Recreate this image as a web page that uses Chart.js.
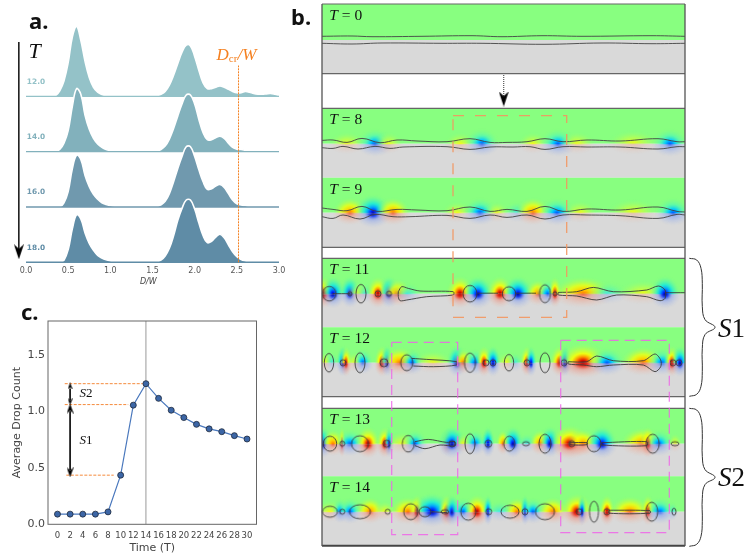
<!DOCTYPE html>
<html>
<head>
<meta charset="utf-8">
<script src="https://cdn.jsdelivr.net/npm/chart.js@4"></script>
<style>
  body { margin: 0; background: #fff; width: 748px; height: 555px; overflow: hidden; position: relative; }
  .box { position: absolute; }
  .letter { position: absolute; font: bold 22px "Noto Sans", sans-serif; color: #111; line-height: 1; }
</style>
</head>
<body>
<div class="box" style="left:0;top:0;width:300px;height:290px"><canvas id="ridge"></canvas></div>
<div class="box" style="left:0;top:290px;width:300px;height:265px"><canvas id="drops"></canvas></div>
<div class="box" style="left:316px;top:0;width:432px;height:555px"><canvas id="field"></canvas></div>
<div class="letter" style="left:29px;top:9px">a.</div>
<div class="letter" style="left:291px;top:5px">b.</div>
<div class="letter" style="left:21px;top:300px">c.</div>
<script>
// ---- panel a
const dwGrid = [0,0.05,0.1,0.15,0.2,0.25,0.3,0.35,0.4,0.45,0.5,0.55,0.6,0.65,0.7,0.75,0.8,0.85,0.9,0.95,1,1.05,1.1,1.15,1.2,1.25,1.3,1.35,1.4,1.45,1.5,1.55,1.6,1.65,1.7,1.75,1.8,1.85,1.9,1.95,2,2.05,2.1,2.15,2.2,2.25,2.3,2.35,2.4,2.45,2.5,2.55,2.6,2.65,2.7,2.75,2.8,2.85,2.9,2.95,3];
const density12 = [0,0,0,0,0,0,0,1,8,22,48,85,100,80,50,27,13,6,2.5,1,0,0,0,0,0,0,0,0,0,0,0,1,3,7,16,30,47,63,73,72,57,37,19,11,11,13,15,13,10,7,5,5,7,6,4,3,3,3.5,4,3,1.5];
const density14 = [0,0,0,0,0,0,0,0,3,12,30,65,90,82,52,32,19,11,6,3,1.5,0.5,0,0,0,0,0,0,0,0,0,0.5,3,8,18,33,51,68,81,81,68,46,27,17,17,20,22,19,12,6,3.5,3,2,1,0.5,0,0,0,0,0,0];
const density16 = [0,0,0,0,0,0,0,0,0,6,22,55,74,68,45,29,18,11,6,3.5,2,1,0.5,0,0,0,0,0,0,0,0,0.5,3,8,19,36,55,72,86,86,72,53,36,25,26,30,32,28,19,10,4.5,3,2,1,0.5,0,0,0,0,0,0];
const density18 = [0,0,0,0,0,0,0,0,0,3,18,48,68,62,42,27,17,10,6,3.5,2,1,0.5,0,0,0,0,0,0,0,0,0.5,3,9,20,38,60,77,89,89,76,56,38,28,30,36,40,35,25,15,8,4,2,1,0.5,0,0,0,0,0,0];
const ridgeLabels = ["12.0", "14.0", "16.0", "18.0"];
const ridgeColors = ["#94c2c8", "#82b1bc", "#7099ae", "#5f8ca6"];
const dwTicks = [0, 0.5, 1, 1.5, 2, 2.5, 3];
const dCritical = 2.52;

// ---- panel c
const timeTicks = [0,2,4,6,8,10,12,14,16,18,20,22,24,26,28,30];
const dropCount = [0.09,0.09,0.09,0.09,0.11,0.435,1.055,1.245,1.115,1.01,0.945,0.885,0.845,0.82,0.785,0.755];

// ---- panel b: strips, x along the domain, y measured from each strip's mid line
const stripTops = { t0: 4, t8: 108.3, t9: 177.7, t11: 258.3, t12: 327.3, t13: 408.3, t14: 476.3 };
const stripMids = { t0: 40, t8: 143.7, t9: 212.7, t11: 293.7, t12: 362.7, t13: 443.7, t14: 511.7 };
const stripEnds = { t0: 73.7, t8: 177.7, t9: 247.3, t11: 327.3, t12: 396.7, t13: 476.3, t14: 545.7 };
const frameLines = [4, 73.7, 108.3, 247.3, 258.3, 396.7, 408.3, 545.7];

const t0Upper = [[0,-3.7],[30,-4],[50,-3.3],[100,-3.7],[150,-4.3],[180,-3.3],[220,-4.3],[260,-3.7],[330,-4.3],[363,-3.7]];
const t0Lower = [[0,3.3],[30,4],[60,3],[120,3.3],[160,3.3],[222,4.3],[280,3],[330,3.7],[363,3.3]];
const t8Upper = [[0,-3.3],[11,-3.7],[25,-1.3],[40,-5.3],[58,-1],[75,-3.7],[95,-2.7],[125,-2],[148,-5],[168,-1.3],[185,-1.3],[205,-2],[223,-5],[241,-2],[265,-3.7],[298,-2.7],[336,-5],[355,-2],[363,-2]];
const t8Lower = [[0,4],[11,4.7],[21,2.7],[36,5.3],[53,2.7],[68,4.7],[81,3.3],[125,3],[148,5.7],[168,3.3],[191,3.3],[208,3],[223,5.7],[241,3],[265,3.3],[298,3.3],[336,5.3],[355,3],[363,3]];
const t9Upper = [[0,-4.7],[11,-3.3],[25,-2],[40,-6.3],[55,-1.3],[75,-3.3],[95,-2.7],[125,-2],[148,-5.7],[168,-1.3],[185,-3.3],[205,-1.3],[223,-6.3],[241,-1.3],[265,-3.7],[298,-2.7],[336,-5.7],[355,-1.3],[363,-0.7]];
const t9Lower = [[0,4],[11,5.7],[21,2.3],[38,6.3],[53,1.7],[71,4],[88,4],[125,2.7],[148,5.7],[168,2.3],[185,4.7],[205,2.3],[223,6.3],[241,2.3],[265,2.3],[298,3],[336,5.7],[355,1.7],[363,2.3]];

// heat patches: x, r(warm)/b(cool), strength, width
const t8Heat = [[25,"r",1,36],[53,"b",2,36],[66,"r",1,30],[138,"r",1,30],[160,"b",2,34],[211,"r",1,30],[236,"b",2,36],[255,"r",1,36],[311,"r",1,50],[348,"b",2,36]];
const t9Heat = [[28,"r",2,34],[51,"b",3,36],[71,"r",2,34],[135,"r",1,30],[158,"b",2,34],[175,"r",1,24],[195,"b",1,26],[211,"r",2,34],[235,"b",2,36],[258,"r",1,34],[311,"r",1,50],[351,"b",2,36]];
const t11Heat = [[1,"r",3,24],[11,"b",3,24],[28,"b",3,20],[36,"r",1,26],[43,"b",1,20],[56,"r",3,22],[67,"b",3,20],[75,"r",2,30],[85,"b",1,30],[138,"r",3,28],[156,"b",3,30],[178,"r",3,26],[196,"b",3,30],[216,"r",2,24],[226,"b",2,24],[233,"r",3,14],[261,"r",2,60],[285,"b",1,40],[321,"r",1,50],[343,"b",3,30]];
const t12Heat = [[3,"r",1,14],[10,"b",1,14],[21,"b",3,14],[24,"r",3,12],[33,"r",1,20],[41,"b",2,20],[60,"r",3,16],[65,"b",3,14],[78,"r",2,40],[90,"b",2,24],[111,"r",1,40],[135,"b",3,20],[141,"r",2,20],[153,"b",2,24],[162,"r",3,16],[171,"b",3,16],[185,"r",1,20],[193,"b",1,16],[205,"r",3,14],[209,"b",3,12],[238,"r",3,20],[243,"b",3,14],[261,"r",3,50],[275,"r",1,20],[285,"b",2,36],[321,"r",2,44],[340,"b",2,30],[350,"r",3,16],[358,"b",3,18]];
const t13Heat = [[1,"b",3,18],[11,"r",2,24],[20,"r",3,8],[28,"b",2,30],[46,"r",3,24],[63,"r",3,18],[67,"b",3,10],[81,"r",1,36],[93,"b",2,24],[125,"r",2,14],[130,"b",3,28],[141,"r",1,20],[153,"b",2,22],[166,"b",3,14],[181,"r",2,14],[191,"b",3,20],[205,"b",1,20],[218,"r",2,20],[228,"b",3,20],[248,"r",3,40],[261,"r",2,30],[280,"b",3,30],[321,"r",2,44],[326,"r",3,16],[337,"b",2,30],[353,"r",1,14]];
const t14Heat = [[8,"r",1,30],[18,"b",2,16],[28,"b",2,24],[48,"r",2,28],[63,"r",1,20],[86,"r",2,36],[95,"r",3,16],[110,"b",3,40],[125,"r",3,18],[130,"b",3,18],[141,"b",2,24],[155,"r",3,24],[166,"b",3,10],[178,"b",1,30],[195,"r",2,24],[203,"b",3,10],[211,"b",2,24],[231,"r",2,30],[255,"r",3,32],[260,"b",3,10],[285,"r",3,16],[308,"r",2,40],[326,"r",3,14],[338,"b",2,30],[351,"b",1,10]];

// droplets: x, half width, half height
const t11Drops = [[7.3,6.7,7.3],[39,5,9.3],[28,2,2],[56,3,3],[67,2.5,2.5],[148,7,8.3],[187,6.7,7],[223,5.5,9],[233,2,2]];
const t12Drops = [[7,4.7,9.3],[21,3,3],[38,5,10],[62,4,4],[84.7,6,8],[148,5.5,9.7],[164,3,3],[171,3,3],[187,4.7,8.3],[205,3,3],[223,5,10],[242,3,3],[351,3,3],[357,3,3]];
const t13Drops = [[8,6.7,7.5],[20.3,2.5,2.5],[38,8.5,8],[64.7,3.5,3.5],[86.3,6,8.3],[130,3,3],[148,5,10],[166.3,3.5,3.5],[187.3,5.5,7.5],[204,3.5,2],[223,6,9.5],[249.7,3,3],[272,7,8],[330.7,6.5,9.5],[353,4,2]];
const t14Drops = [[8,7.5,5.5],[20.3,2.5,2.5],[38,10.5,7],[65.7,2.5,2.5],[88.7,7,8],[103,6,5],[123,4,2],[146.3,7.5,8.5],[166.7,3,3],[188,9,6.5],[203,3,3],[223,9.5,8],[257.3,3,3],[272,4.5,10.5],[284.7,3,3],[329.7,6,9.5],[352,2,3.5]];

// stretched drops and threads, closed outlines
const t11Shapes = [
  [[76.3,-2],[79.7,-7],[86.3,-5.3],[98,-2.7],[131.3,-2],[131.3,1.3],[104.7,3],[84.7,6.3],[78,7],[76.3,3],[76.3,-2]],
  [[236.3,-1.3],[254.7,-2],[271.3,-6.3],[291.3,-2],[324.7,-3.7],[336.3,-7.7],[343,-3.7],[343,4.7],[338,7],[324.7,3],[294.7,1.3],[274.7,6.3],[254.7,2.3],[236.3,1.3],[236.3,-1.3]],
  [[343,-1],[363,-1]], [[11,0],[28,0]], [[156,-0.5],[176,-0.5]], [[194,-0.5],[214,-0.5]]
];
const t12Shapes = [
  [[89.7,-4.3],[104.7,-3.3],[134.7,-1],[134.7,2.3],[111.3,4],[91.3,3.3]],
  [[246.3,-1],[264.7,-1],[274.7,-6.7],[291.3,-2],[321.3,-2],[333,-8.7],[338.7,-2.7],[338.7,4],[333,9],[321.3,2.3],[291.3,2.3],[274.7,4],[261.3,2.3],[246.3,1.3],[246.3,-1]]
];
const t13Shapes = [
  [[93,-2],[106.3,-4.3],[124.7,-1.3],[133,-2],[133,2.3],[118,1.3],[103,5],[93,2]],
  [[248,-1],[265,-1],[265,1],[248,1],[248,-1]],
  [[279.7,-1],[324.7,-2],[324.7,2],[279.7,1.3],[279.7,-1]]
];
const t14Shapes = [
  [[287,-1.5],[328,-1],[328,1.5],[287,1.5],[287,-1.5]],
  [[110,0],[125,1]]
];

const orangeBox = [[131,115.7],[244.7,115.7],[244.7,317.3],[131,317.3],[131,115.7]];
const magentaBoxLeft = [[69.7,342.3],[135.7,342.3],[135.7,534.7],[69.7,534.7],[69.7,342.3]];
const magentaBoxRight = [[238.7,340.3],[347.3,340.3],[347.3,532.7],[238.7,532.7],[238.7,340.3]];
const braceShape = [[367.3,0],[374.7,1.7],[379,10],[380.3,25],[380.3,48],[383,61.3],[393,69],[383,76.3],[380.3,90],[380.3,113],[379,128],[374.7,136],[367.3,138]];
const stripNames = { t0: "0", t8: "8", t9: "9", t11: "11", t12: "12", t13: "13", t14: "14" };

const SERIF = '"Liberation Serif", serif';
const SANS = '"DejaVu Sans", sans-serif';

// writes mixed-font text runs at data coordinates, after the datasets
function textPlugin(items) {
  return {
    id: "mathText",
    afterDatasetsDraw(chart) {
      const ctx = chart.ctx;
      ctx.save();
      ctx.textBaseline = "alphabetic";
      items.forEach(item => {
        let x = chart.scales.x.getPixelForValue(item.x);
        const y = chart.scales.y.getPixelForValue(item.y);
        item.runs.forEach(run => {
          ctx.font = run.font;
          ctx.fillStyle = run.color || "#111";
          ctx.fillText(run.text, x, y + (run.dy || 0));
          x += ctx.measureText(run.text).width;
        });
      });
      ctx.restore();
    }
  };
}

function headSprite(size, up) {
  const c = document.createElement("canvas");
  c.width = size; c.height = size * 1.5;
  const g = c.getContext("2d");
  if (up) { g.translate(0, c.height); g.scale(1, -1); }
  g.fillStyle = "#000";
  g.beginPath();
  g.moveTo(0, 0);
  g.lineTo(size / 2, c.height * 0.3);
  g.lineTo(size, 0);
  g.lineTo(size / 2, c.height);
  g.closePath();
  g.fill();
  return c;
}

function dropSprite(rx, ry) {
  const c = document.createElement("canvas");
  c.width = Math.ceil(rx * 2 + 4); c.height = Math.ceil(ry * 2 + 4);
  const g = c.getContext("2d");
  g.strokeStyle = "#3c3c3c";
  g.lineWidth = 0.9;
  g.beginPath();
  g.ellipse(c.width / 2, c.height / 2, rx, ry, 0, 0, Math.PI * 2);
  g.stroke();
  return c;
}

const upperRamps = {
  r1: [[0,"rgba(255,250,0,.9)"],[0.5,"rgba(220,255,50,.4)"],[1,"rgba(136,255,128,0)"]],
  r2: [[0,"#ff7000"],[0.25,"#ffd000"],[0.5,"rgba(255,255,0,.7)"],[1,"rgba(136,255,128,0)"]],
  r3: [[0,"#8c0000"],[0.12,"#e01000"],[0.28,"#ff9000"],[0.45,"rgba(255,255,0,.85)"],[1,"rgba(136,255,128,0)"]],
  b1: [[0,"rgba(40,225,255,.8)"],[0.5,"rgba(70,240,200,.35)"],[1,"rgba(136,255,128,0)"]],
  b2: [[0,"#0050ff"],[0.25,"#00c8ff"],[0.55,"rgba(60,245,200,.5)"],[1,"rgba(136,255,128,0)"]],
  b3: [[0,"#000090"],[0.12,"#0020ff"],[0.3,"#00a0ff"],[0.5,"rgba(0,230,240,.7)"],[1,"rgba(136,255,128,0)"]]
};
const lowerRamps = {
  r1: [[0,"rgba(240,170,140,.5)"],[1,"rgba(240,190,170,0)"]],
  r2: [[0,"#ee5a3c"],[0.3,"rgba(240,150,125,.6)"],[1,"rgba(240,190,170,0)"]],
  r3: [[0,"#b00000"],[0.2,"#e83020"],[0.45,"rgba(240,130,110,.5)"],[1,"rgba(240,190,170,0)"]],
  b1: [[0,"rgba(140,170,240,.5)"],[1,"rgba(170,190,235,0)"]],
  b2: [[0,"#3c6cf0"],[0.3,"rgba(130,160,240,.6)"],[1,"rgba(170,190,235,0)"]],
  b3: [[0,"#000090"],[0.2,"#2040f0"],[0.45,"rgba(120,150,240,.5)"],[1,"rgba(170,190,235,0)"]]
};

const heatCache = {};
function heatSprite(kind, strength, width) {
  const key = kind + strength + "_" + width;
  if (heatCache[key]) return heatCache[key];
  const up = 6 + strength * 3.5 + width * 0.08;
  const down = 5 + strength * 2.5 + width * 0.06;
  const reach = Math.max(up, down);
  const c = document.createElement("canvas");
  c.width = width * 1.05; c.height = reach * 2;
  const g = c.getContext("2d");
  const half = (top, ramp, h) => {
    g.save();
    g.beginPath();
    g.rect(0, top ? 0 : reach, c.width, reach);
    g.clip();
    g.translate(c.width / 2, reach);
    g.scale(c.width / 2, h);
    const grad = g.createRadialGradient(0, 0, 0, 0, 0, 1);
    ramp.forEach(s => grad.addColorStop(s[0], s[1]));
    g.fillStyle = grad;
    g.fillRect(-1, -1, 2, 2);
    g.restore();
  };
  half(true, upperRamps[kind + strength], up);
  half(false, lowerRamps[kind + strength], down);
  heatCache[key] = c;
  return c;
}

// ---- panel a chart
const ridgeSets = [];
[density12, density14, density16, density18].forEach((row, i) => {
  const base = (3 - i) * 79;
  ridgeSets.push({
    data: dwGrid.map((x, k) => ({ x, y: base + row[k] })),
    borderColor: "#ffffff", borderWidth: 1.6, backgroundColor: ridgeColors[i],
    fill: { value: base }, tension: 0.4, pointRadius: 0, showLine: true, order: 20 - i * 2, clip: false
  });
  ridgeSets.push({
    data: [{ x: 0, y: base }, { x: 3, y: base }],
    borderColor: ridgeColors[i], borderWidth: 1.4, pointRadius: 0, showLine: true, order: 19 - i * 2, clip: false
  });
});
ridgeSets.push({
  data: [{ x: dCritical, y: 0 }, { x: dCritical, y: 281 }],
  borderColor: "#f58020", borderWidth: 1, borderDash: [2, 1], pointRadius: 0, showLine: true, order: 2, clip: false
});
ridgeSets.push({
  data: [{ x: -0.085, y: 314.7 }, { x: -0.085, y: 12 }],
  borderColor: "#111", borderWidth: 1.5, pointRadius: 0, showLine: true, order: 1, clip: false
});
ridgeSets.push({ data: [{ x: -0.085, y: 15 }], pointStyle: headSprite(10, false), pointRadius: 1, showLine: false, order: 0, clip: false });

const ridgeText = ridgeLabels.map((t, i) => ({
  x: 0.01, y: (3 - i) * 79 + 18,
  runs: [{ text: t, font: "bold 7.4px " + SANS, color: ridgeColors[i] }]
}));
ridgeText.push({ x: 0.03, y: 292, runs: [{ text: "T", font: "italic 22px " + SERIF }] });
ridgeText.push({ x: 2.26, y: 289, runs: [
  { text: "D", font: "italic 17px " + SERIF, color: "#f58020" },
  { text: "cr", font: "11px " + SERIF, color: "#f58020", dy: 2.5 },
  { text: "/W", font: "italic 17px " + SERIF, color: "#f58020" }
] });

new Chart(document.getElementById("ridge"), {
  type: "scatter",
  data: { datasets: ridgeSets },
  plugins: [textPlugin(ridgeText)],
  options: {
    responsive: true, maintainAspectRatio: false, animation: false, events: [],
    layout: { autoPadding: false, padding: { left: 17.57, right: 21, top: 20, bottom: 0 } },
    plugins: { legend: { display: false }, tooltip: { enabled: false } },
    scales: {
      x: {
        type: "linear", min: -0.1, max: 3,
        grid: { display: false, drawTicks: false }, border: { display: false },
        afterBuildTicks: s => { s.ticks = dwTicks.map(value => ({ value })); },
        afterFit: s => { s.height = 27.7; },
        ticks: { color: "#555", padding: 4, font: { size: 8, family: "DejaVu Sans" }, callback: v => v.toFixed(1), maxRotation: 0 },
        title: { display: true, text: "D/W", color: "#444", padding: { top: 0, bottom: 3 }, font: { size: 8, style: "italic", family: "DejaVu Sans" } }
      },
      y: { display: false, min: 0, max: 346 }
    }
  }
});

// ---- panel c chart
const orange = "#f58a3c";
function dashLine(y, x0, x1) {
  return { data: [{ x: x0, y }, { x: x1, y }], borderColor: orange, borderWidth: 1, borderDash: [3, 1.5], pointRadius: 0, showLine: true, order: 5 };
}
function blackLine(y0, y1) {
  return { data: [{ x: 2, y: y0 }, { x: 2, y: y1 }], borderColor: "#111", borderWidth: 1, pointRadius: 0, showLine: true, order: 5 };
}
function head(y, up, size) {
  return { data: [{ x: 2, y }], pointStyle: headSprite(size, up), pointRadius: 1, showLine: false, order: 4 };
}
const boxPlugin = {
  id: "boxFrame",
  afterDatasetsDraw(chart) {
    const a = chart.chartArea, ctx = chart.ctx;
    ctx.save();
    ctx.strokeStyle = "#666";
    ctx.lineWidth = 1;
    ctx.strokeRect(a.left, a.top, a.right - a.left, a.bottom - a.top);
    ctx.restore();
  }
};
new Chart(document.getElementById("drops"), {
  type: "scatter",
  data: { datasets: [
    { data: timeTicks.map((t, i) => ({ x: t, y: dropCount[i] })), borderColor: "#4a78bd", borderWidth: 1.2, backgroundColor: "#3c66a6", pointBorderColor: "#1e2a3c", pointBorderWidth: 0.8, pointRadius: 3, showLine: true, order: 1 },
    { data: [{ x: 14, y: 0 }, { x: 14, y: 1.8 }], borderColor: "#999", borderWidth: 1, pointRadius: 0, showLine: true, order: 6 },
    dashLine(1.245, 1.15, 13.5), dashLine(1.06, 1.15, 11.2), dashLine(0.435, 1.4, 8.9),
    blackLine(1.2, 1.1), blackLine(1.0, 0.48),
    head(1.225, true, 5), head(1.085, false, 5), head(1.025, true, 7), head(0.46, false, 7)
  ] },
  plugins: [boxPlugin, textPlugin([
    { x: 3.5, y: 1.125, runs: [{ text: "S", font: "italic 13px " + SERIF }, { text: "2", font: "13px " + SERIF }] },
    { x: 3.5, y: 0.71, runs: [{ text: "S", font: "italic 13px " + SERIF }, { text: "1", font: "13px " + SERIF }] }
  ])],
  options: {
    responsive: true, maintainAspectRatio: false, animation: false, events: [],
    layout: { autoPadding: false, padding: { left: 0, right: 43.5, top: 31, bottom: 0 } },
    plugins: { legend: { display: false }, tooltip: { enabled: false } },
    scales: {
      x: {
        type: "linear", min: -1.5, max: 31.5,
        grid: { display: false, drawTicks: false }, border: { display: false },
        afterBuildTicks: s => { s.ticks = timeTicks.map(value => ({ value })); },
        afterFit: s => { s.height = 30.7; },
        ticks: { color: "#444", padding: 6, autoSkip: false, maxRotation: 0, font: { size: 8.5, family: "DejaVu Sans" } },
        title: { display: true, text: "Time (T)", color: "#444", padding: 0, font: { size: 11, family: "DejaVu Sans" } }
      },
      y: {
        min: 0, max: 1.8,
        grid: { display: false, drawTicks: false }, border: { display: false },
        afterBuildTicks: s => { s.ticks = [0, 0.5, 1, 1.5].map(value => ({ value })); },
        afterFit: s => { s.width = 48; },
        ticks: { color: "#444", padding: 3, font: { size: 11, family: "DejaVu Sans" }, callback: v => v.toFixed(1) },
        title: { display: true, text: "Average Drop Count", color: "#444", padding: { top: 11, bottom: 0 }, font: { size: 11, family: "DejaVu Sans" } }
      }
    }
  }
});

// ---- panel b chart
const fieldSets = [];
const GREEN = "#88ff80", GRAY = "#d9d9d9";
function plain(data, extra) {
  fieldSets.push(Object.assign({ data, pointRadius: 0, showLine: true, borderWidth: 0 }, extra));
}
const rel = (mid, pts) => pts.map(p => ({ x: p[0], y: mid + p[1] }));

Object.keys(stripTops).forEach(k => {
  plain([{ x: 0, y: stripTops[k] }, { x: 363, y: stripTops[k] }], { fill: { value: stripMids[k] }, backgroundColor: GREEN });
  plain([{ x: 0, y: stripEnds[k] }, { x: 363, y: stripEnds[k] }], { fill: { value: stripMids[k] }, backgroundColor: GRAY });
});
[["t8", t8Heat], ["t9", t9Heat], ["t11", t11Heat], ["t12", t12Heat], ["t13", t13Heat], ["t14", t14Heat]].forEach(([k, heat]) => {
  fieldSets.push({
    data: heat.map(h => ({ x: h[0], y: stripMids[k] })),
    pointStyle: heat.map(h => heatSprite(h[1], h[2], h[3])),
    pointRadius: 1, showLine: false
  });
});
[["t0", t0Upper], ["t0", t0Lower], ["t8", t8Upper], ["t8", t8Lower], ["t9", t9Upper], ["t9", t9Lower]].forEach(([k, line]) => {
  plain(rel(stripMids[k], line), { borderColor: "#444", borderWidth: 0.9, tension: 0.4 });
});
[["t11", t11Shapes], ["t12", t12Shapes], ["t13", t13Shapes], ["t14", t14Shapes]].forEach(([k, shapes]) => {
  shapes.forEach(s => plain(rel(stripMids[k], s), { borderColor: "#3c3c3c", borderWidth: 0.9, tension: 0.3 }));
});
[["t11", t11Drops], ["t12", t12Drops], ["t13", t13Drops], ["t14", t14Drops]].forEach(([k, drops]) => {
  fieldSets.push({
    data: drops.map(d => ({ x: d[0], y: stripMids[k] })),
    pointStyle: drops.map(d => dropSprite(d[1], d[2])),
    pointRadius: 1, showLine: false, clip: false
  });
});
frameLines.forEach((y, i) => {
  plain([{ x: 0, y }, { x: 363, y }], { borderColor: i === 7 ? "#444" : "#666", borderWidth: i === 7 ? 2 : 1.2, clip: false });
});
plain([{ x: 0, y: 4 }, { x: 0, y: 546 }], { borderColor: "#555", borderWidth: 1.3, clip: false });
plain([{ x: 363, y: 4 }, { x: 363, y: 546 }], { borderColor: "#555", borderWidth: 1.3, clip: false });
plain([{ x: 181.7, y: 75 }, { x: 181.7, y: 100 }], { borderColor: "#555", borderWidth: 1.2, borderDash: [1, 1] });
fieldSets.push({ data: [{ x: 181.7, y: 99 }], pointStyle: headSprite(10, false), pointRadius: 1, showLine: false });
plain(orangeBox.map(p => ({ x: p[0], y: p[1] })), { borderColor: "rgba(243,150,95,.9)", borderWidth: 1.3, borderDash: [11, 11] });
plain(magentaBoxLeft.map(p => ({ x: p[0], y: p[1] })), { borderColor: "rgba(238,100,232,.85)", borderWidth: 1.2, borderDash: [10, 6] });
plain(magentaBoxRight.map(p => ({ x: p[0], y: p[1] })), { borderColor: "rgba(238,100,232,.85)", borderWidth: 1.2, borderDash: [10, 6] });
[258.3, 408.3].forEach(top => {
  plain(rel(top, braceShape), { borderColor: "#333", borderWidth: 1, tension: 0.4, clip: false });
});
fieldSets.forEach((d, i) => { d.order = fieldSets.length - i; });

const fieldText = Object.keys(stripNames).map(k => ({
  x: 7.3, y: stripTops[k] + 16,
  runs: [{ text: "T", font: "italic 15.5px " + SERIF }, { text: " = " + stripNames[k], font: "15.5px " + SERIF }]
}));
fieldText.push({ x: 396, y: 336.7, runs: [{ text: "S", font: "italic 27px " + SERIF }, { text: "1", font: "27px " + SERIF }] });
fieldText.push({ x: 396, y: 485.7, runs: [{ text: "S", font: "italic 27px " + SERIF }, { text: "2", font: "27px " + SERIF }] });

new Chart(document.getElementById("field"), {
  type: "scatter",
  data: { datasets: fieldSets },
  plugins: [textPlugin(fieldText)],
  options: {
    responsive: true, maintainAspectRatio: false, animation: false, events: [],
    layout: { autoPadding: false, padding: { left: 6, right: 63, top: 0, bottom: 0 } },
    plugins: { legend: { display: false }, tooltip: { enabled: false } },
    scales: {
      x: { display: false, type: "linear", min: 0, max: 363 },
      y: { display: false, reverse: true, min: 0, max: 555 }
    }
  }
});
</script>
</body>
</html>
